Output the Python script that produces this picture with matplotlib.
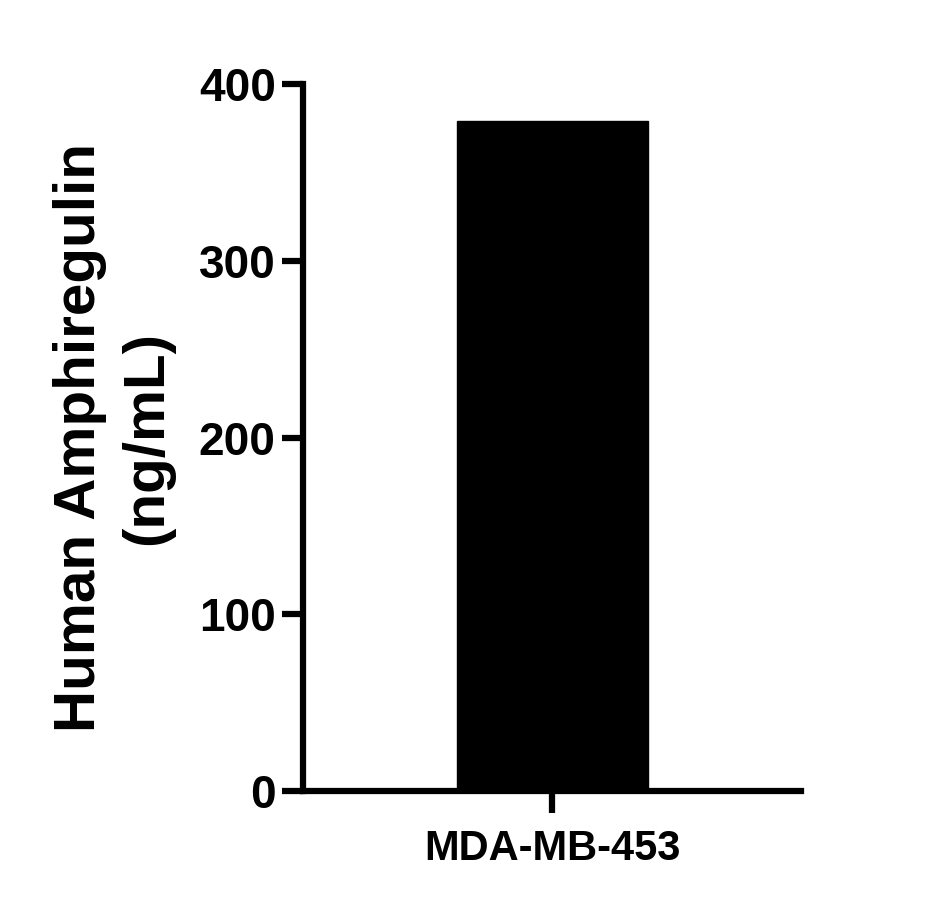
import matplotlib
matplotlib.use("Agg")
import matplotlib.pyplot as plt

# --- data ---
categories = ["MDA-MB-453"]
values = [379]
yticks = [0, 100, 200, 300, 400]

plt.rcParams["font.family"] = ["Liberation Sans", "DejaVu Sans"]
plt.rcParams["font.weight"] = "bold"

fig = plt.figure(figsize=(9.32, 9.09), dpi=100)
ax = fig.add_axes([0.3256, 0.1298, 0.5338, 0.7778])

ax.bar(range(len(categories)), values, width=0.6, color="black", edgecolor="black")

ax.set_xlim(-0.78, 0.78)
ax.set_ylim(0, 400)
ax.set_yticks(yticks)
ax.set_xticks(range(len(categories)))
ax.set_xticklabels(categories)

for side in ("top", "right"):
    ax.spines[side].set_visible(False)
for side in ("left", "bottom"):
    ax.spines[side].set_linewidth(4.5)
    ax.spines[side].set_capstyle("projecting")

ax.tick_params(axis="y", width=4.5, length=15, labelsize=33, pad=5)
ax.tick_params(axis="x", width=4.5, length=16, labelsize=30, pad=11)

ax.set_ylabel("Human Amphiregulin\n(ng/mL)", fontsize=42, fontweight="bold",
              labelpad=18, linespacing=1.3)

fig.savefig("out.png", dpi=100)
